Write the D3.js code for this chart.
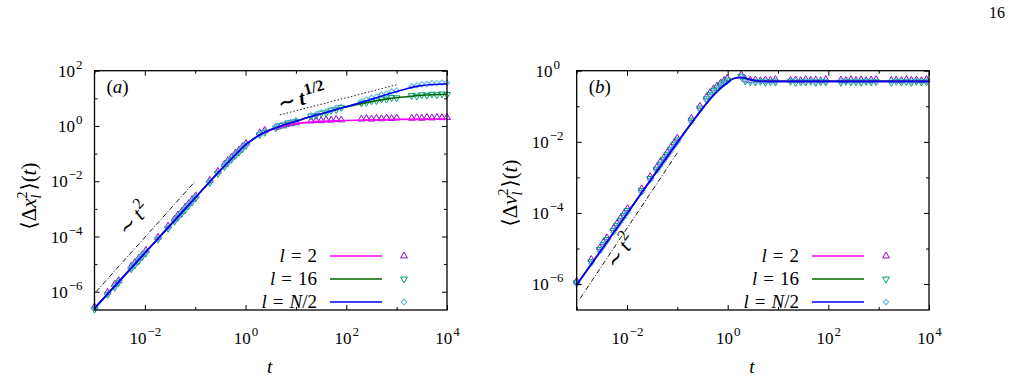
<!DOCTYPE html>
<html>
<head>
<meta charset="UTF-8">
<title>Position and velocity fluctuations</title>
<style>
  body { margin: 0; background: #fff; }
  svg text { font-family: "Liberation Serif", "DejaVu Serif", serif; fill: #000; }
  .tick text { font-size: 17px; }
  .tick line { stroke: #000; }
</style>
</head>
<body>
<svg id="fig" width="1010" height="380"></svg>
<script src="https://d3js.org/d3.v7.min.js"></script>
<script>
// all values below are log10 values

// tick exponents
const xMajor = [-2, 0, 2, 4], xMinor = [-3, -1, 1, 3];
const yMajorA = [-6, -4, -2, 0, 2], yMinorA = [-5, -3, -1, 1];
const yMajorB = [-6, -4, -2, 0], yMinorB = [-5, -3, -1];
const legendNames = ["2", "16", "N/2"];

// panel (a): <dx^2>(t), solid curves
const posLineL2 = [[-3,-6.6],[-2,-4.6],[-1,-2.6],[-0.5,-1.6],[-0.2,-1.04],[0,-0.68],[0.15,-0.48],[0.3,-0.3],[0.48,-0.16],[0.7,-0.03],[0.94,0.07],[1.3,0.14],[1.87,0.19],[2.5,0.22],[3,0.24],[4,0.25]];
const posLineL16 = [[-3,-6.6],[-2,-4.6],[-1,-2.6],[-0.5,-1.6],[-0.2,-1.04],[0,-0.68],[0.15,-0.48],[0.3,-0.3],[0.48,-0.15],[0.7,0.0],[1.0,0.17],[1.3,0.34],[1.6,0.49],[1.9,0.65],[2.2,0.77],[2.53,0.89],[2.85,0.99],[3.2,1.06],[3.5,1.11],[4,1.15]];
const posLineHalf = [[-3,-6.6],[-2,-4.6],[-1,-2.6],[-0.5,-1.6],[-0.2,-1.04],[0,-0.68],[0.15,-0.48],[0.3,-0.3],[0.48,-0.15],[0.7,0.0],[1.0,0.17],[1.3,0.34],[1.6,0.49],[1.9,0.65],[2.2,0.8],[2.5,0.97],[2.8,1.14],[3.0,1.25],[3.2,1.35],[3.45,1.45],[3.7,1.5],[4,1.52]];

// panel (a): symbols
const posEarlyT = [-3.0,-2.74,-2.6,-2.52,-2.27,-2.2,-2.12,-2.05,-1.98,-1.74,-1.54,-1.41,-1.34,-1.27,-1.2,-1.13,-1.06,-0.99,-0.71,-0.55,-0.42,-0.35,-0.28,-0.2,-0.13,-0.06,0.01,0.28,0.38];
const posEarlyL2 = [-6.55,-6.02,-5.74,-5.6,-5.08,-4.95,-4.78,-4.66,-4.5,-4.03,-3.62,-3.37,-3.22,-3.1,-2.94,-2.81,-2.66,-2.53,-1.97,-1.64,-1.39,-1.25,-1.13,-0.98,-0.87,-0.74,-0.63,-0.25,-0.16];
const posEarlyL16 = [-6.63,-6.1,-5.84,-5.66,-5.17,-5.03,-4.87,-4.72,-4.6,-4.1,-3.71,-3.45,-3.3,-3.17,-3.03,-2.88,-2.75,-2.61,-2.05,-1.72,-1.47,-1.33,-1.21,-1.06,-0.95,-0.82,-0.7,-0.32,-0.23];
const posEarlyHalf = [-6.6,-6.07,-5.79,-5.63,-5.13,-4.99,-4.83,-4.69,-4.55,-4.07,-3.67,-3.41,-3.27,-3.13,-2.99,-2.85,-2.71,-2.57,-2.01,-1.69,-1.43,-1.3,-1.17,-1.03,-0.91,-0.79,-0.67,-0.29,-0.2];
const posLateT = [0.6,0.7,0.8,0.9,1.0,1.3,1.4,1.5,1.6,1.7,1.8,1.9,2.3,2.4,2.5,2.6,2.7,2.8,2.9,3.0,3.3,3.4,3.5,3.6,3.7,3.8,3.9,4.0];
const posLateL2 = [-0.05,0.0,0.05,0.08,0.12,0.18,0.2,0.19,0.22,0.21,0.24,0.22,0.25,0.27,0.25,0.28,0.26,0.29,0.27,0.29,0.28,0.3,0.28,0.31,0.29,0.31,0.3,0.31];
const posLateL16 = [-0.07,0.02,0.05,0.13,0.16,0.36,0.38,0.46,0.48,0.57,0.59,0.67,0.83,0.85,0.91,0.92,0.98,0.97,1.03,1.02,1.1,1.08,1.13,1.11,1.15,1.13,1.16,1.14];
const posLateHalf = [-0.03,0.04,0.1,0.14,0.21,0.38,0.42,0.49,0.53,0.58,0.65,0.69,0.89,0.95,1.02,1.06,1.13,1.17,1.25,1.28,1.44,1.47,1.51,1.52,1.55,1.55,1.57,1.56];

// panel (b): <dv^2>(t), the three curves lie on top of each other
const velLine = [[-3,-6.02],[-2,-4.02],[-1,-2.02],[-0.5,-1.06],[-0.3,-0.72],[-0.15,-0.5],[0,-0.33],[0.1,-0.23],[0.24,-0.19],[0.35,-0.21],[0.45,-0.25],[0.6,-0.29],[0.8,-0.3],[1.5,-0.3],[4,-0.3]];

const velEarlyT = [-3.0,-2.71,-2.54,-2.47,-2.4,-2.27,-2.2,-2.13,-2.06,-1.99,-1.71,-1.54,-1.41,-1.34,-1.27,-1.2,-1.13,-1.06,-1.0,-0.72,-0.55,-0.42,-0.35,-0.28,-0.21,-0.14,-0.07,-0.01,0.27];
const velEarlyL2 = [-5.92,-5.31,-4.98,-4.83,-4.7,-4.44,-4.3,-4.15,-4.02,-3.88,-3.32,-2.98,-2.72,-2.57,-2.45,-2.3,-2.16,-2.02,-1.9,-1.34,-1.0,-0.74,-0.62,-0.51,-0.43,-0.35,-0.27,-0.22,-0.12];
const velEarlyL16 = [-5.96,-5.37,-5.03,-4.89,-4.75,-4.49,-4.35,-4.21,-4.07,-3.93,-3.37,-3.03,-2.77,-2.63,-2.49,-2.35,-2.21,-2.07,-1.95,-1.39,-1.05,-0.79,-0.67,-0.56,-0.48,-0.4,-0.32,-0.26,-0.16];
const velEarlyHalf = [-6.0,-5.42,-5.08,-4.94,-4.8,-4.54,-4.4,-4.26,-4.12,-3.98,-3.42,-3.08,-2.82,-2.68,-2.54,-2.4,-2.26,-2.12,-2.0,-1.44,-1.1,-0.84,-0.72,-0.61,-0.53,-0.45,-0.37,-0.31,-0.17];
const velLateT = [0.35,0.45,0.55,0.65,0.75,0.85,0.95,1.25,1.35,1.45,1.55,1.65,1.75,1.85,1.95,2.25,2.35,2.45,2.55,2.65,2.75,2.85,2.95,3.25,3.35,3.45,3.55,3.65,3.75,3.85,3.95];
const velLateL2 = [-0.24,-0.27,-0.26,-0.28,-0.26,-0.27,-0.25,-0.27,-0.26,-0.28,-0.25,-0.27,-0.26,-0.28,-0.25,-0.26,-0.28,-0.25,-0.27,-0.26,-0.28,-0.26,-0.25,-0.27,-0.26,-0.28,-0.25,-0.27,-0.26,-0.28,-0.25];
const velLateL16 = [-0.29,-0.31,-0.32,-0.3,-0.33,-0.31,-0.32,-0.3,-0.33,-0.31,-0.32,-0.3,-0.33,-0.31,-0.32,-0.33,-0.3,-0.32,-0.31,-0.33,-0.3,-0.32,-0.31,-0.33,-0.3,-0.32,-0.31,-0.33,-0.3,-0.32,-0.31];
const velLateHalf = [-0.27,-0.3,-0.31,-0.29,-0.3,-0.32,-0.29,-0.3,-0.28,-0.31,-0.3,-0.29,-0.31,-0.28,-0.3,-0.29,-0.31,-0.3,-0.28,-0.31,-0.29,-0.3,-0.31,-0.28,-0.3,-0.29,-0.31,-0.3,-0.28,-0.3,-0.29];

// guide lines
const guideA2 = [[-2.97,-6.0],[-1.01,-2.02]];
const guideAHalf = [[0.68,0.4],[3.0,1.49]];
const guideB2 = [[-2.93,-6.4],[-0.98,-2.27]];

const lineColors = ["#ff00ff", "#006400", "#0000ff"];
const pointColors = ["#9400d3", "#009e73", "#56b4e9"];

const svg = d3.select("#fig");
const pow = v => Math.pow(10, v);
const zip = (ts, vs) => ts.map((t, i) => [t, vs[i]]);

svg.append("text").attr("x", 1005).attr("y", 18).attr("text-anchor", "end")
  .style("font-size", "16px").text("16");

function expText(sel, e) {
  sel.text(null);
  sel.append("tspan").text("10");
  sel.append("tspan").attr("dx", 1).attr("dy", -8).style("font-size", "13px")
    .text(e < 0 ? "\u2212" + (-e) : e);
}

function symbolPath(shape) {
  if (shape === 2) return d3.symbol(d3.symbolSquare, 15)();
  return d3.symbol(d3.symbolTriangle, 20)();
}
function symbolTransform(shape, px, py) {
  if (shape === 1) return `translate(${px},${py}) rotate(180)`;
  if (shape === 2) return `translate(${px},${py}) rotate(45)`;
  return `translate(${px},${py})`;
}

function drawPanel(o) {
  const x = d3.scaleLog().domain([pow(-3), pow(4)]).range([o.left, o.right]);
  const y = d3.scaleLog().domain([pow(o.yMin), pow(o.yMax)]).range([o.bottom, o.top]);
  const g = svg.append("g");
  const line = d3.line().x(d => x(pow(d[0]))).y(d => y(pow(d[1]))).curve(d3.curveMonotoneX);
  const straight = d3.line().x(d => x(pow(d[0]))).y(d => y(pow(d[1])));

  // guides
  o.guides.forEach(gd => {
    g.append("path").attr("d", straight(gd.pts))
      .attr("fill", "none").attr("stroke", "#000").attr("stroke-width", 0.9)
      .attr("stroke-dasharray", gd.dash);
  });

  // symbols
  o.points.forEach((pts, k) => {
    g.append("g").selectAll("path").data(pts).join("path")
      .attr("d", symbolPath(k))
      .attr("transform", d => symbolTransform(k, x(pow(d[0])), y(pow(d[1]))))
      .attr("fill", "none").attr("stroke", pointColors[k]).attr("stroke-width", 1);
  });

  // curves
  o.lines.forEach((pts, k) => {
    g.append("path").attr("d", line(pts)).attr("fill", "none")
      .attr("stroke", lineColors[k]).attr("stroke-width", 1.6);
  });

  // frame
  g.append("rect").attr("x", o.left).attr("y", o.top)
    .attr("width", o.right - o.left).attr("height", o.bottom - o.top)
    .attr("fill", "none").attr("stroke", "#000").attr("stroke-width", 1.3);

  // ticks on all four sides, inward
  const axes = [
    [d3.axisBottom, x, `translate(0,${o.bottom})`, xMajor, xMinor, true],
    [d3.axisTop, x, `translate(0,${o.top})`, xMajor, xMinor, false],
    [d3.axisLeft, y, `translate(${o.left},0)`, o.yMajor, o.yMinor, true],
    [d3.axisRight, y, `translate(${o.right},0)`, o.yMajor, o.yMinor, false]
  ];
  axes.forEach(([fn, sc, tr, major, minor, labels]) => {
    const big = g.append("g").attr("transform", tr)
      .call(fn(sc).tickValues(major.map(pow)).tickSize(-5).tickFormat(""));
    g.append("g").attr("transform", tr)
      .call(fn(sc).tickValues(minor.map(pow)).tickSize(-3).tickFormat(""));
    g.selectAll(".domain").remove();
    if (!labels) { big.selectAll("text").remove(); return; }
    big.attr("font-family", null).attr("font-size", null);
    big.selectAll(".tick text").each(function(d) {
      const t = d3.select(this);
      const e = Math.round(Math.log10(d));
      if (fn === d3.axisBottom) {
        t.attr("y", 34).attr("dy", null).attr("text-anchor", "middle");
      } else {
        t.attr("x", o.yLabX).attr("dy", "0.33em").attr("text-anchor", o.yLabAnchor);
      }
      expText(t, e);
    });
  });

  // axis titles
  g.append("text").attr("x", (o.left + o.right) / 2 + o.tShift).attr("y", 373)
    .attr("text-anchor", "middle").style("font-size", "19px").style("font-style", "italic").text("t");

  const yt = g.append("text")
    .attr("transform", `translate(${o.yTitleX},${o.yTitleY}) rotate(-90)`)
    .attr("text-anchor", "middle").style("font-size", "21px");
  yt.append("tspan").text("\u27e8\u0394");
  yt.append("tspan").style("font-style", "italic").text(o.yVar);
  yt.append("tspan").attr("dy", 5).style("font-size", "14px").style("font-style", "italic").text("l");
  yt.append("tspan").attr("dx", -4).attr("dy", -14).style("font-size", "14px").text("2");
  yt.append("tspan").attr("dx", 1).attr("dy", 9).text("\u27e9(");
  yt.append("tspan").style("font-style", "italic").text("t");
  yt.append("tspan").text(")");

  // panel tag
  const tag = g.append("text").attr("x", o.left + 12).attr("y", 93).style("font-size", "19px");
  tag.append("tspan").text("(");
  tag.append("tspan").style("font-style", "italic").text(o.tag);
  tag.append("tspan").text(")");

  // guide labels
  o.notes.forEach(n => {
    const t = g.append("text")
      .attr("transform", `translate(${n.x},${n.y}) rotate(${n.angle})`)
      .style("font-size", n.size + "px").style("font-weight", n.bold ? "bold" : "normal");
    t.append("tspan").text("\u223c");
    t.append("tspan").attr("dx", 4).style("font-style", "italic").text("t");
    t.append("tspan").attr("dx", 1).attr("dy", -9).style("font-size", (n.size - 5) + "px").text(n.power);
  });

  // legend
  const rows = [256, 279, 302];
  legendNames.forEach((name, k) => {
    const t = g.append("text").attr("x", o.legText).attr("y", rows[k] + 6)
      .attr("text-anchor", "end").style("font-size", "19px");
    t.append("tspan").style("font-style", "italic").text("l");
    t.append("tspan").attr("dx", 6).text("=");
    if (name === "N/2") {
      t.append("tspan").attr("dx", 6).style("font-style", "italic").text("N");
      t.append("tspan").text("/2");
    } else {
      t.append("tspan").attr("dx", 6).text(name);
    }
    g.append("line").attr("x1", o.legText + 13).attr("x2", o.legText + 65)
      .attr("y1", rows[k]).attr("y2", rows[k])
      .attr("stroke", lineColors[k]).attr("stroke-width", 1.6);
    g.append("path").attr("d", symbolPath(k))
      .attr("transform", symbolTransform(k, o.legText + 87, rows[k]))
      .attr("fill", "none").attr("stroke", pointColors[k]).attr("stroke-width", 1);
  });
}

drawPanel({
  left: 94.5, right: 447, top: 70.7, bottom: 310, yMin: -6.66, yMax: 2,
  yMajor: yMajorA, yMinor: yMinorA, yLabX: -12, yLabAnchor: "end",
  yTitleX: 36, yTitleY: 196, yVar: "x", tag: "a", tShift: -1,
  lines: [posLineL2, posLineL16, posLineHalf],
  points: [
    zip(posEarlyT, posEarlyL2).concat(zip(posLateT, posLateL2)),
    zip(posEarlyT, posEarlyL16).concat(zip(posLateT, posLateL16)),
    zip(posEarlyT, posEarlyHalf).concat(zip(posLateT, posLateHalf))
  ],
  guides: [{pts: guideA2, dash: "5,2,1,2"}, {pts: guideAHalf, dash: "1.5,2"}],
  notes: [
    {x: 127, y: 237, angle: -48, size: 21, power: "2", bold: false},
    {x: 280, y: 111, angle: -15, size: 21, power: "1/2", bold: true}
  ],
  legText: 317
});

drawPanel({
  left: 576.7, right: 929, top: 70.7, bottom: 310, yMin: -6.73, yMax: 0,
  yMajor: yMajorB, yMinor: yMinorB, yLabX: -29, yLabAnchor: "middle",
  yTitleX: 517, yTitleY: 193, yVar: "v", tag: "b", tShift: -1,
  lines: [velLine, velLine, velLine],
  points: [
    zip(velEarlyT, velEarlyL2).concat(zip(velLateT, velLateL2)),
    zip(velEarlyT, velEarlyL16).concat(zip(velLateT, velLateL16)),
    zip(velEarlyT, velEarlyHalf).concat(zip(velLateT, velLateHalf))
  ],
  guides: [{pts: guideB2, dash: "5,2,1,2"}],
  notes: [
    {x: 616, y: 270, angle: -55, size: 21, power: "2", bold: false}
  ],
  legText: 799
});
</script>
</body>
</html>
